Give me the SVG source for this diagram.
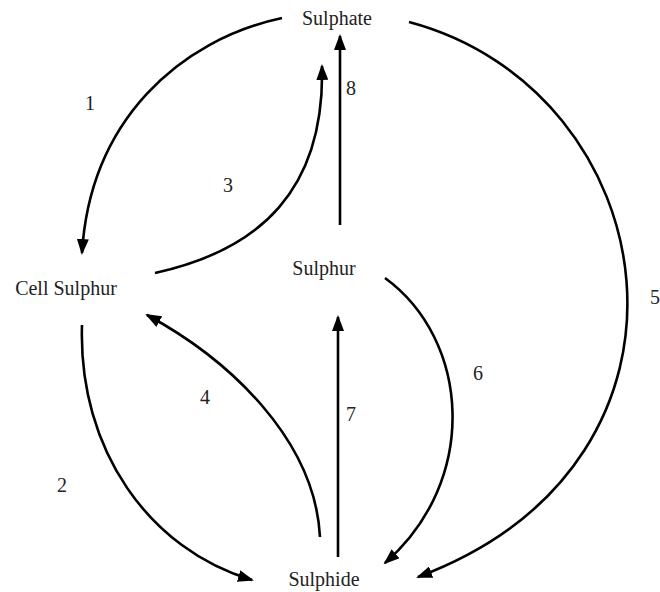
<svg xmlns="http://www.w3.org/2000/svg" width="660" height="592" viewBox="0 0 660 592">
<style>
text{font-family:"Liberation Serif","Times New Roman",serif;font-size:20px;fill:#222}
.c{fill:none;stroke:#000;stroke-width:2.6}
.n{text-anchor:middle}
</style>
<defs>
<marker id="ah" markerUnits="userSpaceOnUse" markerWidth="16" markerHeight="12" refX="14" refY="6" orient="auto">
<path d="M0,0 L16,6 L0,12 z" fill="#000"/>
</marker>
</defs>
<rect width="660" height="592" fill="#fff"/>
<g id="connectors">
<path class="c" d="M282,18 C180,40 90,120 82,253" marker-end="url(#ah)"/>
<path class="c" d="M155,273 C260,250 325,190 322,66" marker-end="url(#ah)"/>
<path class="c" d="M340,225 L340,36" marker-end="url(#ah)"/>
<path class="c" d="M82,325 C78,450 150,550 252,580" marker-end="url(#ah)"/>
<path class="c" d="M320,537 C315,440 230,360 147,315" marker-end="url(#ah)"/>
<path class="c" d="M338,557 L338,317" marker-end="url(#ah)"/>
<path class="c" d="M385,278 C470,340 480,480 385,563" marker-end="url(#ah)"/>
<path class="c" d="M409,22 C665,90 730,460 418,577" marker-end="url(#ah)"/>
</g>
<g id="sulphate"><text class="n" x="337" y="25">Sulphate</text></g>
<g id="cell-sulphur"><text class="n" x="66" y="295">Cell Sulphur</text></g>
<g id="sulphur"><text class="n" x="324" y="275">Sulphur</text></g>
<g id="sulphide"><text class="n" x="324" y="586">Sulphide</text></g>
<g id="labels">
<text class="n" x="90" y="110">1</text>
<text class="n" x="62" y="492">2</text>
<text class="n" x="228" y="192">3</text>
<text class="n" x="205" y="404">4</text>
<text class="n" x="655" y="304">5</text>
<text class="n" x="478" y="380">6</text>
<text class="n" x="351" y="421">7</text>
<text class="n" x="351" y="95">8</text>
</g>
</svg>
